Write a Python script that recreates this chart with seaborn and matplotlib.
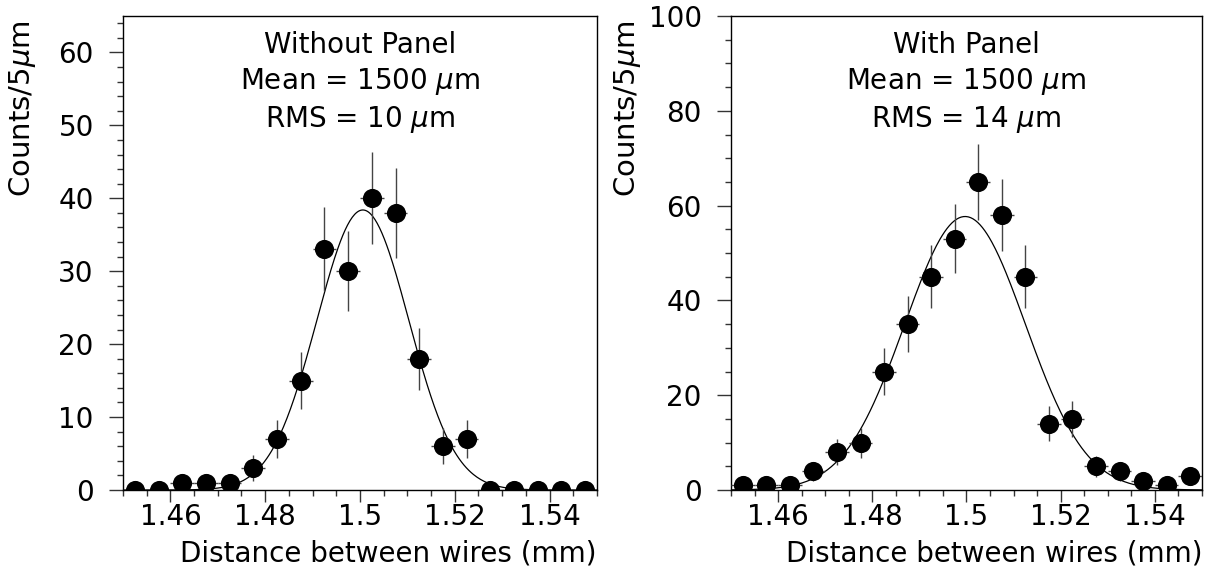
import numpy as np
import pandas as pd
import matplotlib
matplotlib.use("Agg")
import matplotlib.pyplot as plt
import seaborn as sns
from matplotlib.ticker import MultipleLocator, FuncFormatter

# bin centres (mm), 5 um bins
bin_centers = [1.4525, 1.4575, 1.4625, 1.4675, 1.4725, 1.4775, 1.4825, 1.4875, 1.4925, 1.4975,
               1.5025, 1.5075, 1.5125, 1.5175, 1.5225, 1.5275, 1.5325, 1.5375, 1.5425, 1.5475]
counts_without = [0, 0, 1, 1, 1, 3, 7, 15, 33, 30, 40, 38, 18, 6, 7, 0, 0, 0, 0, 0]
counts_with = [1, 1, 1, 4, 8, 10, 25, 35, 45, 53, 65, 58, 45, 14, 15, 5, 4, 2, 1, 3]

# gaussian fit parameters: amplitude, mean (mm), sigma (mm)
fit_without = (38.4, 1.5006, 0.0097)
fit_with = (57.7, 1.4997, 0.0128)

titles = ["Without Panel", "With Panel"]
rms_values = [10, 14]
y_limits = [65, 100]
y_major = [10, 20]
y_minor = [2, 5]

sns.set_style("ticks")
plt.rcParams['font.family'] = ['DejaVu Sans']
plt.rcParams['mathtext.fontset'] = 'dejavusans'
plt.rcParams['text.color'] = 'black'
plt.rcParams['axes.labelcolor'] = 'black'
plt.rcParams['xtick.color'] = 'black'
plt.rcParams['ytick.color'] = 'black'


def draw_panel(ax, counts, fit, title, rms, ymax, major, minor, label_x):
    df = pd.DataFrame({"x": bin_centers, "n": counts})
    df["err"] = np.sqrt(df["n"])

    # fit curve
    xs = np.linspace(1.45, 1.55, 400)
    amp, mu, sig = fit
    curve = pd.DataFrame({"x": xs, "y": amp * np.exp(-0.5 * ((xs - mu) / sig) ** 2)})
    sns.lineplot(data=curve, x="x", y="y", ax=ax, color="black", lw=0.9, zorder=2)

    ax.errorbar(df["x"], df["n"], yerr=df["err"], xerr=0.0025, fmt="none",
                ecolor="#444444", elinewidth=1.0, capsize=0, zorder=3)
    sns.scatterplot(data=df, x="x", y="n", ax=ax, color="black", s=190,
                    edgecolor="black", linewidth=0, zorder=4, legend=False)

    ax.set_xlim(1.45, 1.55)
    ax.set_ylim(0, ymax)
    ax.xaxis.set_major_locator(MultipleLocator(0.02))
    ax.xaxis.set_minor_locator(MultipleLocator(0.005))
    ax.xaxis.set_major_formatter(FuncFormatter(lambda v, p: "%g" % round(v, 4)))
    ax.yaxis.set_major_locator(MultipleLocator(major))
    ax.yaxis.set_minor_locator(MultipleLocator(minor))
    ax.tick_params(axis="both", which="both", direction="out", color="#333333",
                   labelcolor="black", labelsize=20, width=1, top=False, right=False)
    ax.tick_params(axis="x", which="major", length=8.5, pad=1)
    ax.tick_params(axis="x", which="minor", length=4.5)
    ax.tick_params(axis="y", which="major", length=10, pad=11)
    ax.tick_params(axis="y", which="minor", length=4.5)
    for s in ax.spines.values():
        s.set_color("black")
        s.set_linewidth(1.0)

    ax.set_xlabel("Distance between wires (mm)", fontsize=20, loc="right", color="black")
    ax.xaxis.set_label_coords(1.0, -0.105)
    ax.set_ylabel("Counts/5$\\mu$m", fontsize=21, loc="top", color="black")
    ax.yaxis.set_label_coords(label_x, 0.99)

    ax.text(0.5, 0.921, title, transform=ax.transAxes, ha="center", va="baseline",
            fontsize=20, color="black")
    ax.text(0.5, 0.845, "Mean = 1500 $\\mu$m", transform=ax.transAxes, ha="center",
            va="baseline", fontsize=20, color="black")
    ax.text(0.5, 0.766, "RMS = %d $\\mu$m" % rms, transform=ax.transAxes, ha="center",
            va="baseline", fontsize=20, color="black")


def main():
    fig = plt.figure(figsize=(12.11, 5.73), dpi=100)
    ax1 = fig.add_axes([123 / 1211, 1 - 490 / 573, 474 / 1211, 474 / 573])
    ax2 = fig.add_axes([731 / 1211, 1 - 490 / 573, 471 / 1211, 474 / 573])

    draw_panel(ax1, counts_without, fit_without, titles[0], rms_values[0],
               y_limits[0], y_major[0], y_minor[0], -0.179)
    draw_panel(ax2, counts_with, fit_with, titles[1], rms_values[1],
               y_limits[1], y_major[1], y_minor[1], -0.187)

    fig.savefig("out.png", dpi=100, facecolor="white")


if __name__ == "__main__":
    main()
